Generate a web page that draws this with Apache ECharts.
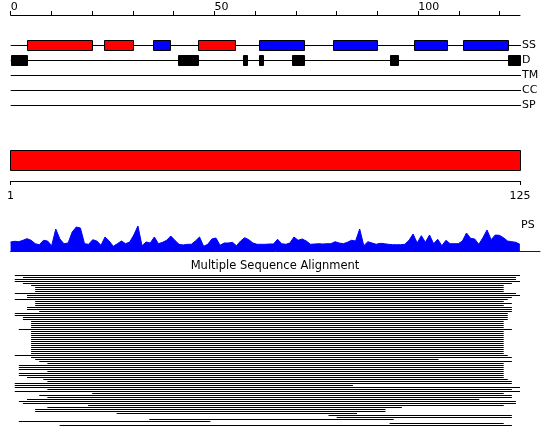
<!DOCTYPE html>
<html><head><meta charset="utf-8">
<script src="https://cdn.jsdelivr.net/npm/echarts@6/dist/echarts.min.js"></script>
<style>html,body{margin:0;padding:0;background:#fff}#c{width:550px;height:447px}</style>
</head><body><div id="c"></div>
<script>
// ---------- data ----------
const seqLength = 125;
const trackNames = ['SS', 'D', 'TM', 'CC', 'SP'];
const topTickValues = [0, 10, 20, 30, 40, 50, 60, 70, 80, 90, 100, 110, 120];
const topLabelValues = [0, 50, 100];
const barLabelValues = [1, 125];

// secondary structure segments (H = helix, E = strand)
const ssStart = [4, 23, 35, 46, 61, 79, 99, 111];
const ssEnd   = [20, 30, 39, 55, 72, 90, 107, 122];
const ssType  = ['H', 'H', 'E', 'H', 'E', 'E', 'E', 'E'];

// disorder segments
const disStart = [0, 41, 57, 61, 69, 93, 122];
const disEnd   = [4, 46, 58, 62, 72, 95, 125];

// PS profile, residues 1..125
const psValues = [
  9, 9.7, 9.3, 10.7, 12.3, 10.7, 7.3, 6.3, 10.7, 10,
  5.3, 22, 12, 7.3, 8, 19, 24, 23, 7.3, 6.7,
  11.3, 10, 5.7, 14, 10, 4.7, 7.3, 10, 7.3, 9,
  16, 25, 5.3, 9, 8, 14, 7.3, 8.7, 10.7, 15,
  10.7, 6.7, 6, 6.7, 6.7, 10, 14, 4.7, 6.7, 12,
  13, 5.7, 8, 8, 8.7, 5.3, 10, 13.3, 11.3, 8,
  6.7, 6.7, 6.7, 7, 7, 11.7, 7.3, 6.7, 8, 14,
  10.7, 12, 10, 6.7, 7, 7.3, 7, 7.3, 7.3, 9.3,
  8, 7.3, 8.7, 10.7, 10, 22, 5.3, 9.3, 8, 6.7,
  7.7, 7.3, 6.7, 6.3, 6.3, 6.3, 6.7, 10.7, 17, 8,
  15.3, 8.7, 16, 7.3, 11.7, 5.3, 10.7, 7.3, 7.3, 7.3,
  10, 18, 12.7, 12, 6.7, 13.3, 21, 11.3, 16, 15.7,
  13.3, 10, 9.3, 8.7, 6.7
];

// multiple sequence alignment: coverage of each aligned sequence
const msaStart = [
  1, 3, 1, 1, 3, 5, 6, 6, 6, 1,
  4, 4, 1, 6, 6, 6, 4, 4, 7, 1,
  1, 3, 3, 5, 5, 5, 5, 2, 5, 5,
  5, 5, 5, 5, 5, 5, 5, 5, 5, 5,
  1, 5, 6, 7, 9, 2, 2, 2, 9, 2,
  2, 4, 8, 9, 1, 1, 1, 9, 1, 20,
  7, 9, 4, 2, 3, 19, 9, 6, 6, 26,
  78, 80, 34, 2, 93, 12
];
const msaEnd = [
  125, 124, 124, 125, 123, 121, 121, 121, 121, 124,
  125, 123, 122, 121, 123, 121, 123, 123, 123, 122,
  122, 122, 122, 121, 121, 121, 121, 123, 121, 121,
  121, 121, 121, 121, 121, 121, 121, 121, 121, 121,
  122, 123, 105, 123, 121, 121, 121, 121, 121, 121,
  121, 121, 122, 123, 123, 84, 125, 123, 125, 121,
  123, 123, 115, 124, 124, 121, 96, 92, 92, 85,
  123, 123, 94, 49, 121, 123
];

// ---------- chart ----------
const FONT = 'DejaVu Sans';
const chart = echarts.init(document.getElementById('c'), null, {renderer: 'canvas', width: 550, height: 447});

function boxRenderer(rowIdx, h) {
  return function (params, api) {
    const a = api.coord([api.value(0), rowIdx]);
    const b = api.coord([api.value(1), rowIdx]);
    const x0 = Math.round(a[0]) + 0.5, x1 = Math.round(b[0]) + 0.5;
    const y0 = Math.floor(a[1]) - h / 2 + 0.5;
    return {
      type: 'rect',
      shape: {x: x0, y: y0, width: x1 - x0, height: h},
      style: {fill: api.visual('color'), stroke: '#000', lineWidth: 1}
    };
  };
}

const msaRows = msaStart.map((s, i) => [s, msaEnd[i], i]);

const option = {
  animation: false,
  backgroundColor: '#fff',
  textStyle: {fontFamily: FONT},
  title: [
    {text: 'Multiple Sequence Alignment', left: 'center', top: 260, padding: 0,
     textStyle: {fontFamily: FONT, fontSize: 11.5, fontWeight: 'normal', color: '#000'}},
    {text: 'PS', left: 521, top: 220, padding: 0,
     textStyle: {fontFamily: FONT, fontSize: 11, fontWeight: 'normal', color: '#000'}}
  ],
  grid: [
    {left: 10.7, width: 509.3, top: 38, height: 75},
    {left: 10.6, width: 509.4, top: 150, height: 31},
    {left: 10.6, width: 529.4, top: 224, height: 27},
    {left: 10.7, width: 509.3, top: 274.5, height: 152}
  ],
  xAxis: [
    {gridIndex: 0, type: 'value', min: 0, max: seqLength, position: 'top', offset: 23,
     axisLine: {show: true, lineStyle: {color: '#000', width: 1}},
     axisTick: {show: true, length: 4, customValues: topTickValues, lineStyle: {color: '#000'}},
     axisLabel: {show: true, customValues: topLabelValues, align: 'left', margin: 2,
                 fontFamily: FONT, fontSize: 11, color: '#000'},
     splitLine: {show: false}},
    {gridIndex: 1, type: 'value', min: 1, max: seqLength, position: 'bottom',
     axisLine: {show: true, lineStyle: {color: '#000', width: 1}},
     axisTick: {show: true, length: 4, customValues: barLabelValues, lineStyle: {color: '#000'}},
     axisLabel: {show: true, customValues: barLabelValues, margin: 10,
                 fontFamily: FONT, fontSize: 11, color: '#000'},
     splitLine: {show: false}},
    {gridIndex: 2, type: 'value', min: 1, max: 129.9,
     axisLine: {show: true, lineStyle: {color: '#0000ff', width: 1}},
     axisTick: {show: false}, axisLabel: {show: false}, splitLine: {show: false}},
    {gridIndex: 3, type: 'value', min: 0, max: seqLength, show: false}
  ],
  yAxis: [
    {gridIndex: 0, type: 'category', data: trackNames, inverse: true, position: 'right',
     axisLine: {show: false}, axisTick: {show: false},
     axisLabel: {margin: 2, fontFamily: FONT, fontSize: 11, color: '#000'},
     splitLine: {show: false}},
    {gridIndex: 1, type: 'value', min: 0, max: 1, show: false},
    {gridIndex: 2, type: 'value', min: 0, max: 27, show: false},
    {gridIndex: 3, type: 'category', data: msaRows.map((r, i) => i), inverse: true, show: false}
  ],
  series: [
    { // track lines
      type: 'custom', xAxisIndex: 0, yAxisIndex: 0, silent: true,
      data: trackNames.map((n, i) => [0, seqLength, i]),
      renderItem: function (params, api) {
        const row = api.value(2);
        const a = api.coord([api.value(0), row]);
        const b = api.coord([api.value(1), row]);
        const y = Math.floor(a[1]) + 0.5;
        return {type: 'line', shape: {x1: a[0], y1: y, x2: b[0] + 1, y2: y},
                style: {stroke: '#000', lineWidth: 1}};
      }
    },
    { // secondary structure
      type: 'custom', xAxisIndex: 0, yAxisIndex: 0, silent: true,
      data: ssStart.map((s, i) => ({value: [s, ssEnd[i]],
        itemStyle: {color: ssType[i] === 'H' ? '#ff0000' : '#0000ff'}})),
      renderItem: boxRenderer(0, 10)
    },
    { // disorder
      type: 'custom', xAxisIndex: 0, yAxisIndex: 0, silent: true,
      itemStyle: {color: '#000'},
      data: disStart.map((s, i) => [s, disEnd[i]]),
      renderItem: boxRenderer(1, 10)
    },
    { // full-length domain bar
      type: 'custom', xAxisIndex: 1, yAxisIndex: 1, silent: true,
      data: [[1, seqLength]],
      renderItem: function (params, api) {
        const a = api.coord([api.value(0), 1]);
        const b = api.coord([api.value(1), 1]);
        const x0 = Math.round(a[0]) - 0.5, x1 = Math.round(b[0]) + 0.5;
        const y0 = params.coordSys.y + 0.5;
        return {type: 'rect', shape: {x: x0, y: y0, width: x1 - x0, height: 20},
                style: {fill: '#ff0000', stroke: '#000', lineWidth: 1}};
      }
    },
    { // PS profile
      type: 'line', xAxisIndex: 2, yAxisIndex: 2, silent: true,
      data: psValues.map((v, i) => [i + 1, v]),
      symbol: 'none', smooth: false,
      lineStyle: {color: '#0000ff', width: 1},
      areaStyle: {color: '#0000ff', opacity: 1}
    },
    { // MSA
      type: 'custom', xAxisIndex: 3, yAxisIndex: 3, silent: true,
      data: msaRows,
      renderItem: function (params, api) {
        const row = api.value(2);
        const a = api.coord([api.value(0), row]);
        const b = api.coord([api.value(1), row]);
        return {type: 'rect', shape: {x: a[0], y: a[1] - 0.5, width: b[0] - a[0], height: 1},
                style: {fill: '#000'}};
      }
    }
  ]
};
chart.setOption(option);
</script>
</body></html>
